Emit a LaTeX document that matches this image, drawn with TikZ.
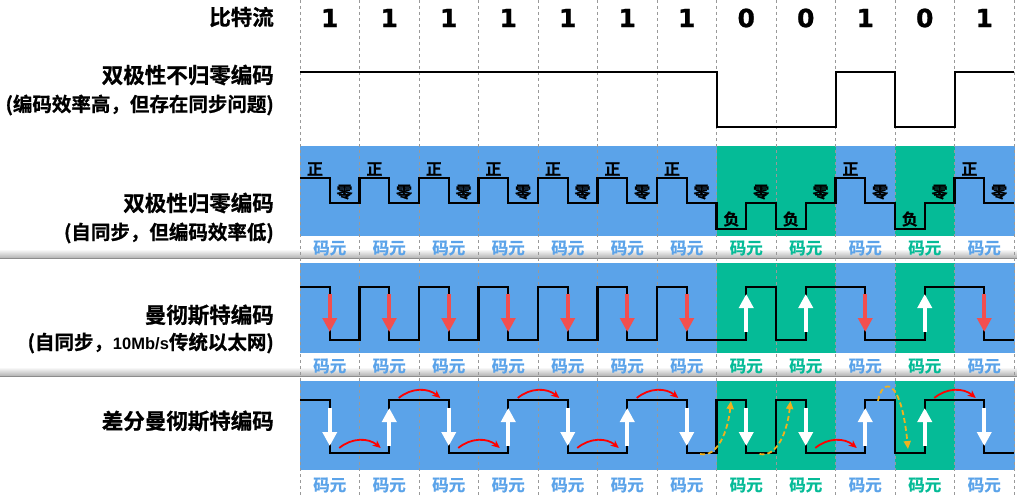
\documentclass[tikz,border=0pt]{standalone}
\usepackage{fontspec}
\setmainfont{Noto Sans CJK SC}[BoldFont={* Bold},BoldFeatures={FakeBold=0.8}]
\newfontfamily\digitfont{DejaVu Sans}[BoldFeatures={FakeBold=1}]
\newfontfamily\latinfont{Liberation Sans}
\usetikzlibrary{arrows.meta}
\definecolor{tone1}{HTML}{5BA3E9}
\definecolor{tone0}{HTML}{05BB97}
\definecolor{flipred}{HTML}{F24F4F}
\definecolor{hopyellow}{HTML}{F0B21E}
\def\bits{1,1,1,1,1,1,1,0,0,1,0,1}
\def\starts{1,0,1,0,1,0,1,1,1,0,0,1}

\begin{document}
\begin{tikzpicture}[x=1pt,y=-1pt,
    signal/.style={line width=2.4pt},
    title/.style={anchor=east,inner sep=0pt,font=\bfseries\fontsize{21.5}{24}\selectfont},
    note/.style={anchor=east,inner sep=0pt,font=\bfseries\fontsize{19.5}{22}\selectfont},
    level/.style={inner sep=0pt,font=\bfseries\fontsize{16}{17}\selectfont},
    unit/.style={inner sep=0pt,font=\bfseries\fontsize{16.5}{18}\selectfont},
    bitval/.style={inner sep=0pt,font=\digitfont\bfseries\fontsize{25}{27}\selectfont},
    slot/.style={black!40,line width=0.8pt,dash pattern=on 3pt off 3pt},
    bigtip/.style={line width=4pt,-{Triangle[length=14pt,width=14pt]}},
    keep/.style={red,line width=1.8pt,-{Stealth[length=8pt,width=7pt]}},
    jump/.style={hopyellow,line width=1.8pt,dash pattern=on 5pt off 3pt,-{Triangle[length=8pt,width=7pt]}}]
    \useasboundingbox (0,0) rectangle (1017,495);

    \shade[top color=white,bottom color=black!30] (0,249) rectangle (1017,258);
    \draw[black!45,line width=1pt] (0,258.5) -- (1017,258.5);
    \shade[top color=white,bottom color=black!30] (0,367) rectangle (1017,376);
    \draw[black!45,line width=1pt] (0,376.5) -- (1017,376.5);

    \foreach \b [count=\i from 0] in \bits {
        \fill[tone\b] (300+59.5*\i,146) rectangle +(60,90);
        \fill[tone\b] (300+59.5*\i,263) rectangle +(60,90);
        \fill[tone\b] (300+59.5*\i,381) rectangle +(60,89);
        \node[unit,text=tone\b] (ua\i) at (329.75+59.5*\i,248) {码元};
        \node[unit,text=tone\b] (ub\i) at (329.75+59.5*\i,366) {码元};
        \node[unit,text=tone\b] (uc\i) at (329.75+59.5*\i,485) {码元};
        \node[bitval] (b\i) at (329.75+59.5*\i,18) {\b};
    }
    \foreach \i in {0,...,12} {
        \draw[slot] (300+59.5*\i,0) -- (300+59.5*\i,495);
    }

    \draw[line width=2pt] (300,72) \foreach \b [count=\i from 0] in \bits {
        -| (300+59.5*\i,127-55*\b) } -| (1014,72);

    \draw[signal] (300,178) \foreach \b [count=\i from 0] in \bits {
        -| (300+59.5*\i,229-51*\b) -| (329.75+59.5*\i,203) } -| (1014,203);
    \foreach \b [count=\i from 0] in \bits {
        \ifnum\b=1
            \node[level] (p\i) at (314.9+59.5*\i,169) {正};
        \else
            \node[level] (p\i) at (314.9+59.5*\i,219) {负};
        \fi
        \node[level] (z\i) at (344.6+59.5*\i,192) {零};
    }

    \draw[signal] (300,287) \foreach \b [count=\i from 0] in \bits {
        -| (300+59.5*\i,340-53*\b) -| (329.75+59.5*\i,287+53*\b) } -| (1014,340);
    \foreach \b [count=\i from 0] in \bits {
        \ifnum\b=1
            \draw[bigtip,flipred] (329.75+59.5*\i,294) -- (329.75+59.5*\i,332);
        \else
            \draw[bigtip,white] (329.75+59.5*\i,332) -- (329.75+59.5*\i,294);
        \fi
    }

    \draw[signal] (300,400) \foreach \s [count=\i from 0] in \starts {
        -| (300+59.5*\i,453-53*\s) -| (329.75+59.5*\i,400+53*\s) } -| (1014,453);
    \foreach \s [count=\i from 0] in \starts {
        \ifnum\s=1
            \draw[bigtip,white] (329.75+59.5*\i,408) -- (329.75+59.5*\i,446);
        \else
            \draw[bigtip,white] (329.75+59.5*\i,446) -- (329.75+59.5*\i,408);
        \fi
    }
    \foreach \i/\y in {1/448,2/398,3/448,4/398,5/448,6/398,9/448,11/398} {
        \draw[keep] (279.75+59.5*\i,\y) to[bend left=40] (321.25+59.5*\i,\y);
    }
    \draw[jump] (700,454) .. controls (718,458) and (728,430) .. (731,401);
    \draw[jump] (759.5,454) .. controls (777.5,458) and (787.5,430) .. (790.5,401);
    \draw[jump] (878,401) .. controls (882,378) and (901,376) .. (908,449);

    \node[title] (bitrow) at (274,17) {比特流};
    \node[title] (nrz) at (274,75) {双极性不归零编码};
    \node[note] (nrznote) at (274,105) {(编码效率高，但存在同步问题)};
    \node[title] (rz) at (274,203) {双极性归零编码};
    \node[note] (rznote) at (274,233) {(自同步，但编码效率低)};
    \node[title] (man) at (274,315) {曼彻斯特编码};
    \node[note] (mannote) at (274,343) {(自同步，{\latinfont\fontsize{16.5}{20}\selectfont 10Mb/s}传统以太网)};
    \node[title] (dman) at (274,421) {差分曼彻斯特编码};
\end{tikzpicture}
\end{document}
